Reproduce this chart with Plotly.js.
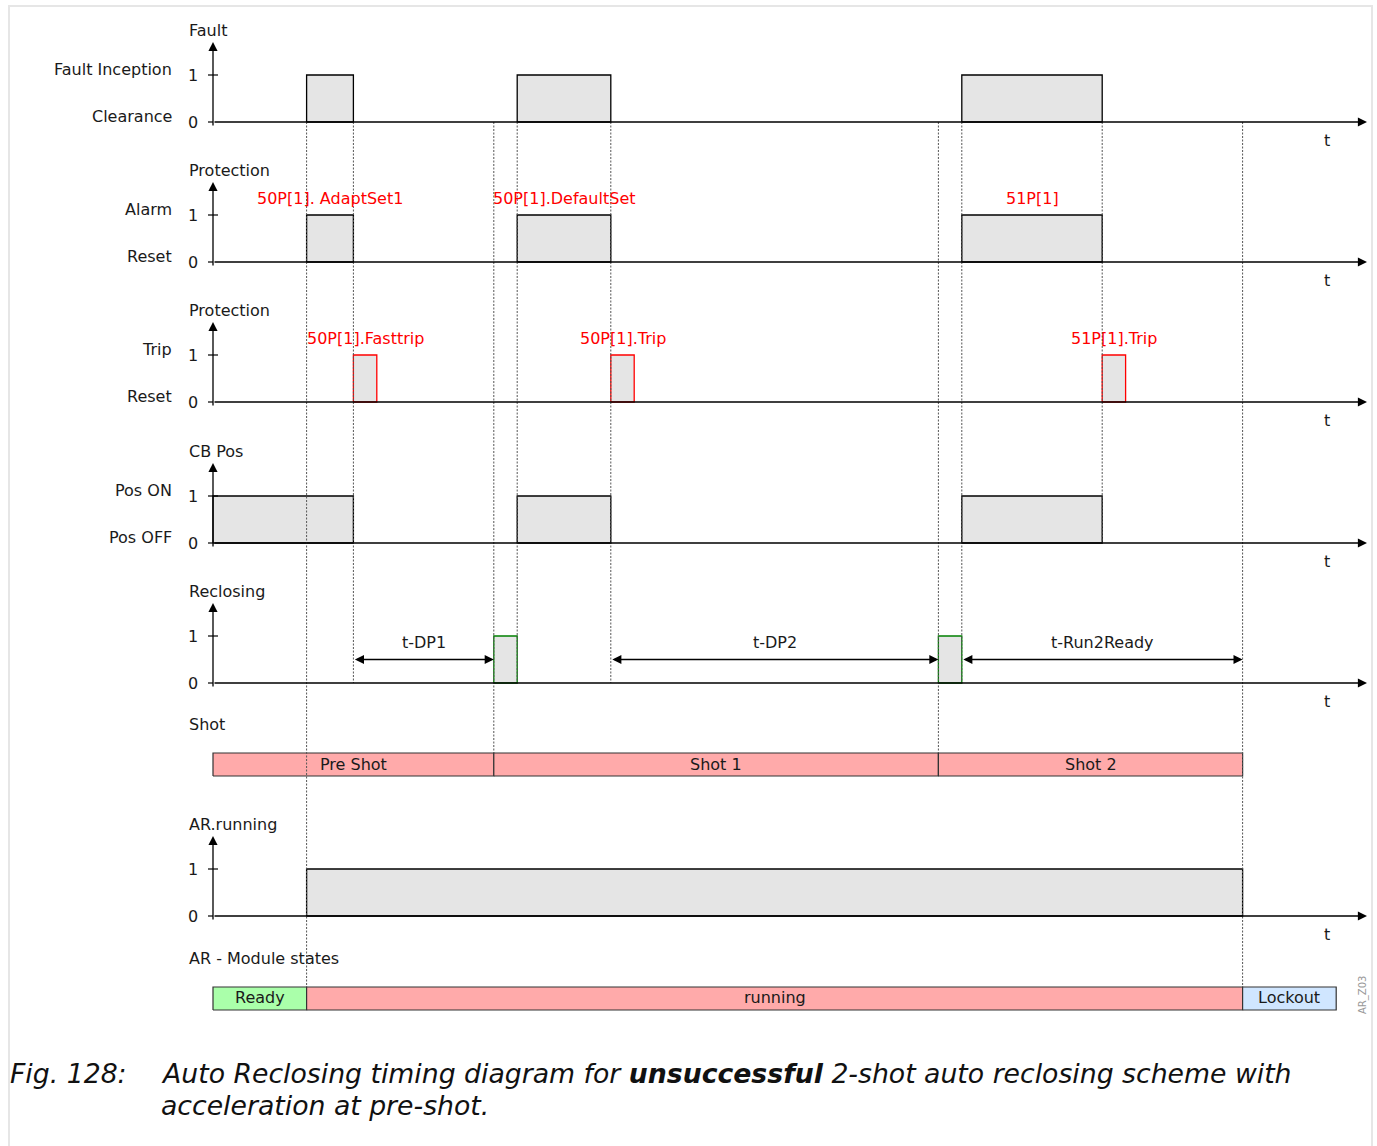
<!DOCTYPE html>
<html><head><meta charset="utf-8">
<script src="https://cdn.plot.ly/plotly-3.0.1.min.js"></script>
<style>html,body{margin:0;padding:0;background:#fff;} #chart{width:1377px;height:1146px;}</style>
</head><body><div id="chart"></div>
<script>
// ---------------- DATA (time in arbitrary units, levels 0/1) ----------------
const faultStart = [4, 13, 32];
const faultEnd   = [6, 17, 38];
const alarmStart = [4, 13, 32];
const alarmEnd   = [6, 17, 38];
const alarmLabels = ['50P[1]. AdaptSet1', '50P[1].DefaultSet', '51P[1]'];
const tripStart = [6, 17, 38];
const tripEnd   = [7, 18, 39];
const tripLabels = ['50P[1].Fasttrip', '50P[1].Trip', '51P[1].Trip'];
const cbStart = [0, 13, 32];
const cbEnd   = [6, 17, 38];
const reclStart = [12, 31];
const reclEnd   = [13, 32];
const arRunStart = [4];
const arRunEnd   = [44];
const timerLabels = ['t-DP1', 't-DP2', 't-Run2Ready'];
const timerStart = [6, 17, 32];
const timerEnd   = [12, 31, 44];
const shotLabels = ['Pre Shot', 'Shot 1', 'Shot 2'];
const shotStart  = [0, 12, 31];
const shotEnd    = [12, 31, 44];
const stateLabels = ['Ready', 'running', 'Lockout'];
const stateStart  = [0, 4, 44];
const stateEnd    = [4, 44, 48];
const eventTimes  = [4, 6, 12, 13, 17, 31, 32, 38, 44];
const tickLabels  = ['0', '1'];
const levels      = [0, 1];

// ---------------- LAYOUT CONFIG (pixels) ----------------
const W = 1377, H = 1146;
const X0 = 213, UNIT = 23.4, LEVEL = 47;
const T_END = (1367 - X0) / UNIT;
const px2t = p => (p - X0) / UNIT;
const FONT = 'DejaVu Sans, Verdana, sans-serif';
const TXT = '#1a1a1a';
const BOXFILL = '#e5e5e5';

const rows = [
  {title: 'Fault',      base: 122, names: ['Clearance', 'Fault Inception'], s: faultStart, e: faultEnd, stroke: '#000'},
  {title: 'Protection', base: 262, names: ['Reset', 'Alarm'],  s: alarmStart, e: alarmEnd, stroke: '#000', labels: alarmLabels},
  {title: 'Protection', base: 402, names: ['Reset', 'Trip'],   s: tripStart,  e: tripEnd,  stroke: '#ff0000', labels: tripLabels},
  {title: 'CB Pos',     base: 543, names: ['Pos OFF', 'Pos ON'], s: cbStart, e: cbEnd, stroke: '#000'},
  {title: 'Reclosing',  base: 683, names: null, s: reclStart, e: reclEnd, stroke: '#008000'},
  {title: 'AR.running', base: 916, names: null, s: arRunStart, e: arRunEnd, stroke: '#000'}
];
const SHOT_TOP = 753, SHOT_BOT = 776, SHOT_TITLE_Y = 724;
const STATE_TOP = 987, STATE_BOT = 1010, STATE_TITLE_Y = 958;
const stateColors = ['#aaffaa', '#ffaaaa', '#d0e6ff'];
const guideBottom = [987, 683, 753, 683, 683, 753, 683, 543, 987];
const TIMER_Y = 683 - LEVEL / 2;
const TITLE_X = 187, NAME_X = 174;

const traces = [];
const ann = [];

function box(t0, t1, yTop, yBot, fill, stroke, lw) {
  traces.push({
    type: 'scatter', mode: 'lines', hoverinfo: 'skip', showlegend: false,
    x: [t0, t0, t1, t1, t0], y: [yBot, yTop, yTop, yBot, yBot],
    fill: 'toself', fillcolor: fill, line: {color: stroke, width: lw}
  });
}
function label(text, x, y, opts) {
  ann.push(Object.assign({
    text: text, x: x, y: y, xref: 'x', yref: 'y', showarrow: false,
    font: {family: FONT, size: 16, color: TXT}, xanchor: 'center', yanchor: 'middle'
  }, opts || {}));
}
function arrow(xh, yh, xt, yt, both) {
  const a = {
    text: '', x: xh, y: yh, ax: xt, ay: yt, xref: 'x', yref: 'y', axref: 'x', ayref: 'y',
    showarrow: true, arrowhead: 2, arrowsize: 1.4, arrowwidth: 1.3, arrowcolor: '#000', standoff: 0
  };
  if (both) { a.arrowside = 'end+start'; a.startarrowhead = 2; a.startarrowsize = 1.4; a.startstandoff = 0; }
  ann.push(a);
}
function seg(x0, y0, x1, y1, color, w, dash) {
  traces.push({type: 'scatter', mode: 'lines', hoverinfo: 'skip', showlegend: false,
    x: [x0, x1], y: [y0, y1], line: {color: color, width: w, dash: dash || 'solid'}});
}

// signal rows
rows.forEach(r => {
  const b = r.base;
  r.s.forEach((t0, i) => box(t0, r.e[i], b - levels[1] * LEVEL, b - levels[0] * LEVEL, BOXFILL, r.stroke, 1.3));
  label(r.title, px2t(TITLE_X), b - 92, {xanchor: 'left'});
  levels.forEach((lv, k) => {
    const y = b - lv * LEVEL;
    label(tickLabels[k], px2t(193), y, {});
    seg(px2t(208), y, px2t(lv ? 218 : 213), y, '#000', 1.2);
    if (r.names) label(r.names[k], px2t(NAME_X), y - 5.5, {xanchor: 'right'});
  });
  arrow(T_END, b, px2t(213), b, false);
  arrow(0, b - 80, 0, b + 5, false);
  label('t', px2t(1327), b + 18, {});
  if (r.labels) r.labels.forEach((txt, i) =>
    label(txt, (r.s[i] + r.e[i]) / 2, b - LEVEL - 17, {font: {family: FONT, size: 16, color: '#ff0000'}}));
});

// timers in reclosing row
timerLabels.forEach((txt, i) => {
  arrow(timerEnd[i], TIMER_Y, timerStart[i], TIMER_Y, true);
  label(txt, (timerStart[i] + timerEnd[i]) / 2, TIMER_Y - 17.5, {});
});

// shot bar
label('Shot', px2t(TITLE_X), SHOT_TITLE_Y, {xanchor: 'left'});
shotLabels.forEach((txt, i) => {
  box(shotStart[i], shotEnd[i], SHOT_TOP, SHOT_BOT, '#ffaaaa', '#333', 1.2);
  label(txt, (shotStart[i] + shotEnd[i]) / 2, (SHOT_TOP + SHOT_BOT) / 2, {});
});

// module states bar
label('AR - Module states', px2t(TITLE_X), STATE_TITLE_Y, {xanchor: 'left'});
stateLabels.forEach((txt, i) => {
  box(stateStart[i], stateEnd[i], STATE_TOP, STATE_BOT, stateColors[i], '#333', 1.2);
  label(txt, (stateStart[i] + stateEnd[i]) / 2, (STATE_TOP + STATE_BOT) / 2 - 1.5, {});
});

// dashed guides
const gx = [], gy = [];
eventTimes.forEach((t, i) => { gx.push(t, t, null); gy.push(122, guideBottom[i], null); });
traces.push({type: 'scatter', mode: 'lines', hoverinfo: 'skip', showlegend: false,
  x: gx, y: gy, line: {color: '#555', width: 1, dash: '2px,1.5px'}});

// caption
const CAP = {family: FONT, size: 26.7, color: '#111'};
ann.push({text: '<i>Fig. 128:</i>', xref: 'paper', yref: 'paper', x: 8 / W, y: 1 - 1073 / H,
  xanchor: 'left', yanchor: 'middle', showarrow: false, font: CAP});
ann.push({text: '<i>Auto Reclosing timing diagram for <b>unsuccessful</b> 2-shot auto reclosing scheme with</i>',
  xref: 'paper', yref: 'paper', x: 159 / W, y: 1 - 1073 / H,
  xanchor: 'left', yanchor: 'middle', showarrow: false, font: CAP});
ann.push({text: '<i>acceleration at pre-shot.</i>',
  xref: 'paper', yref: 'paper', x: 159 / W, y: 1 - 1105 / H,
  xanchor: 'left', yanchor: 'middle', showarrow: false, font: CAP});
ann.push({text: 'AR_Z03', xref: 'paper', yref: 'paper', x: 1363 / W, y: 1 - 995 / H, textangle: -90,
  xanchor: 'center', yanchor: 'middle', showarrow: false, font: {family: FONT, size: 10, color: '#999'}});

const layout = {
  width: W, height: H, margin: {l: 0, r: 0, t: 0, b: 0, pad: 0},
  paper_bgcolor: '#fff', plot_bgcolor: '#fff', showlegend: false,
  xaxis: {range: [px2t(0), px2t(W)], visible: false, fixedrange: true},
  yaxis: {range: [H, 0], visible: false, fixedrange: true},
  annotations: ann,
  shapes: [{type: 'rect', xref: 'paper', yref: 'paper', x0: 9 / W, x1: 1372 / W, y0: -0.05, y1: 1 - 6 / H,
    line: {color: '#e6e6e6', width: 2}, fillcolor: 'rgba(0,0,0,0)', layer: 'below'}]
};
Plotly.newPlot('chart', traces, layout, {staticPlot: true, displayModeBar: false});
</script></body></html>
